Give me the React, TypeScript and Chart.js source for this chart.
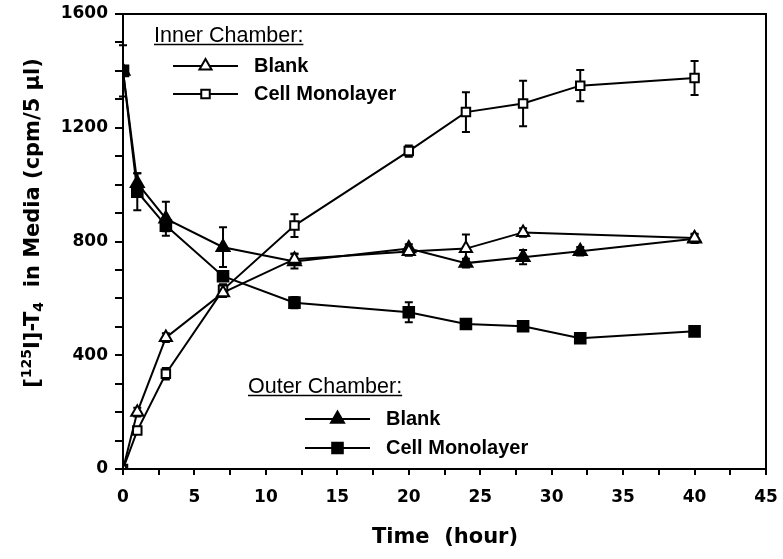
import React, { useEffect, useRef } from 'react';
import { Chart, registerables } from 'chart.js';

Chart.register(...registerables);

// ---- data ----
const allHours = [0, 1, 3, 7, 12, 20, 24, 28, 32, 40];
const innerBlankHours = [0, 1, 3, 7, 12, 20, 24, 28, 40];
const innerBlankValues = [0, 200, 462, 620, 738, 765, 775, 832, 812];
const innerBlankErrors = [0, 15, 15, 15, 20, 15, 50, 15, 15];
const innerCellValues = [0, 135, 335, 630, 856, 1118, 1255, 1285, 1348, 1375];
const innerCellErrors = [0, 10, 20, 20, 40, 20, 70, 80, 55, 60];
const outerBlankValues = [1400, 1005, 880, 780, 730, 775, 724, 745, 766, 810];
const outerBlankErrors = [90, 35, 60, 70, 25, 15, 15, 25, 15, 15];
const outerCellValues = [1400, 975, 856, 678, 585, 551, 510, 502, 460, 484];
const outerCellErrors = [0, 65, 20, 15, 20, 35, 10, 10, 15, 10];

const xMin = 0;
const xMax = 45;
const xMinorStep = 2.5;
const xLabelStep = 5;
const yMin = 0;
const yMax = 1600;
const yMinorStep = 100;
const yLabelStep = 400;

const innerHeading = 'Inner Chamber:';
const outerHeading = 'Outer Chamber:';
const blankLabel = 'Blank';
const cellLabel = 'Cell Monolayer';
const xTitle = 'Time  (hour)';

const errorSets = [innerBlankErrors, innerCellErrors, outerBlankErrors, outerCellErrors];

function toPoints(xs: number[], ys: number[]) {
  return xs.map((x, i) => ({ x, y: ys[i] }));
}

function drawMarker(ctx: CanvasRenderingContext2D, kind: string, filled: boolean, x: number, y: number, r: number) {
  ctx.save();
  ctx.beginPath();
  if (kind === 'triangle') {
    for (let k = 0; k < 3; k++) {
      const a = (k * 2 * Math.PI) / 3;
      const px = x + Math.sin(a) * r;
      const py = y - Math.cos(a) * r;
      if (k === 0) ctx.moveTo(px, py);
      else ctx.lineTo(px, py);
    }
    ctx.closePath();
  } else {
    const s = r * Math.SQRT1_2;
    ctx.rect(x - s, y - s, 2 * s, 2 * s);
  }
  ctx.fillStyle = filled ? '#000' : '#fff';
  ctx.fill();
  ctx.lineWidth = 2;
  ctx.strokeStyle = '#000';
  ctx.stroke();
  ctx.restore();
}

const decorPlugin = {
  id: 'decor',
  beforeDatasetsDraw(chart: any) {
    const ctx = chart.ctx as CanvasRenderingContext2D;
    const yScale = chart.scales.y;
    ctx.save();
    ctx.strokeStyle = '#000';
    ctx.lineWidth = 2;
    chart.data.datasets.forEach((ds: any, di: number) => {
      const meta = chart.getDatasetMeta(di);
      const errs = errorSets[di];
      meta.data.forEach((el: any, j: number) => {
        const e = errs[j];
        if (!e) return;
        const v = ds.data[j].y;
        const top = yScale.getPixelForValue(v + e);
        const bot = yScale.getPixelForValue(v - e);
        const x = el.x;
        ctx.beginPath();
        ctx.moveTo(x, top);
        ctx.lineTo(x, bot);
        ctx.moveTo(x - 4, top);
        ctx.lineTo(x + 4, top);
        ctx.moveTo(x - 4, bot);
        ctx.lineTo(x + 4, bot);
        ctx.stroke();
      });
    });
    ctx.restore();
  },
  afterDraw(chart: any) {
    const ctx = chart.ctx as CanvasRenderingContext2D;
    const area = chart.chartArea;
    ctx.save();
    // frame
    ctx.strokeStyle = '#000';
    ctx.lineWidth = 2;
    ctx.strokeRect(area.left, area.top, area.right - area.left, area.bottom - area.top);

    // x title
    ctx.fillStyle = '#000';
    ctx.font = 'bold 21px "DejaVu Sans"';
    ctx.textAlign = 'center';
    ctx.textBaseline = 'alphabetic';
    ctx.fillText(xTitle, 445, 543);

    // y title with super/subscript
    const big = 'bold 21px "DejaVu Sans"';
    const small = 'bold 14px "DejaVu Sans"';
    const parts: [string, string, number][] = [
      ['[', big, 0],
      ['125', small, -8],
      ['I]-T', big, 0],
      ['4', small, 4],
      ['  in Media (cpm/5 \u00b5l)', big, 0],
    ];
    let total = 0;
    parts.forEach(([t, f]) => {
      ctx.font = f;
      total += ctx.measureText(t).width;
    });
    ctx.translate(39, 223);
    ctx.rotate(-Math.PI / 2);
    ctx.textAlign = 'left';
    let cx = -total / 2;
    parts.forEach(([t, f, dy]) => {
      ctx.font = f;
      ctx.fillText(t, cx, dy);
      cx += ctx.measureText(t).width;
    });
    ctx.setTransform(1, 0, 0, 1, 0, 0);

    // legends
    const drawLegend = (heading: string, hx: number, hy: number, lx0: number, lx1: number, tx: number, rows: [string, string, boolean, number, number][]) => {
      ctx.font = '21.5px "Liberation Sans"';
      ctx.textAlign = 'left';
      ctx.textBaseline = 'alphabetic';
      ctx.fillStyle = '#000';
      ctx.fillText(heading, hx, hy);
      const w = ctx.measureText(heading).width;
      ctx.lineWidth = 1.5;
      ctx.beginPath();
      ctx.moveTo(hx, hy + 2.5);
      ctx.lineTo(hx + w, hy + 2.5);
      ctx.stroke();
      rows.forEach(([label, kind, filled, y, r]) => {
        ctx.lineWidth = 2;
        ctx.beginPath();
        ctx.moveTo(lx0, y);
        ctx.lineTo(lx1, y);
        ctx.stroke();
        drawMarker(ctx, kind, filled, (lx0 + lx1) / 2, y, r);
        ctx.font = 'bold 20px "Liberation Sans"';
        ctx.textBaseline = 'middle';
        ctx.fillStyle = '#000';
        ctx.fillText(label, tx, y);
        ctx.textBaseline = 'alphabetic';
      });
    };
    drawLegend(innerHeading, 154, 42, 173, 238, 254, [
      [blankLabel, 'triangle', false, 66, 7],
      [cellLabel, 'rect', false, 94, 6],
    ]);
    drawLegend(outerHeading, 248, 393, 305, 370, 386, [
      [blankLabel, 'triangle', true, 419, 7.5],
      [cellLabel, 'rect', true, 448, 7.5],
    ]);
    ctx.restore();
  },
};

export default function App() {
  const ref = useRef<HTMLCanvasElement | null>(null);
  useEffect(() => {
    if (!ref.current) return;
    const common = {
      borderColor: '#000',
      borderWidth: 2,
      pointBorderColor: '#000',
      pointBorderWidth: 2,
      tension: 0,
      showLine: true,
    };
    const chart = new Chart(ref.current, {
      type: 'scatter',
      data: {
        datasets: [
          {
            ...common,
            label: 'Inner Blank',
            data: toPoints(innerBlankHours, innerBlankValues),
            pointStyle: 'triangle',
            pointRadius: 7,
            pointBackgroundColor: '#fff',
          },
          {
            ...common,
            label: 'Inner Cell Monolayer',
            data: toPoints(allHours, innerCellValues),
            pointStyle: 'rect',
            pointRadius: 6,
            pointBackgroundColor: '#fff',
          },
          {
            ...common,
            label: 'Outer Blank',
            data: toPoints(allHours, outerBlankValues),
            pointStyle: 'triangle',
            pointRadius: 7.5,
            pointBackgroundColor: '#000',
          },
          {
            ...common,
            label: 'Outer Cell Monolayer',
            data: toPoints(allHours, outerCellValues),
            pointStyle: 'rect',
            pointRadius: 7.5,
            pointBackgroundColor: '#000',
          },
        ],
      },
      options: {
        responsive: false,
        animation: false,
        layout: { padding: { top: 14, right: 17, left: 0, bottom: 0 } },
        plugins: { legend: { display: false }, tooltip: { enabled: false } },
        scales: {
          x: {
            type: 'linear',
            min: xMin,
            max: xMax,
            afterFit: (s: any) => {
              s.height = 90;
              s.paddingLeft = 0;
              s.paddingRight = 0;
            },
            grid: { drawOnChartArea: false, drawTicks: true, tickLength: 6, color: '#000', lineWidth: 2 },
            border: { color: '#000', width: 2 },
            ticks: {
              stepSize: xMinorStep,
              autoSkip: false,
              maxRotation: 0,
              padding: 12,
              color: '#000',
              font: { family: 'DejaVu Sans', size: 17, weight: 'bold' },
              callback: (v: any) => (Number(v) % xLabelStep === 0 ? String(v) : ''),
            },
          },
          y: {
            type: 'linear',
            min: yMin,
            max: yMax,
            afterFit: (s: any) => {
              s.width = 123;
              s.paddingTop = 0;
              s.paddingBottom = 0;
            },
            grid: { drawOnChartArea: false, drawTicks: true, tickLength: 8, color: '#000', lineWidth: 2 },
            border: { color: '#000', width: 2 },
            ticks: {
              stepSize: yMinorStep,
              autoSkip: false,
              padding: 7,
              color: '#000',
              font: { family: 'DejaVu Sans', size: 17, weight: 'bold' },
              callback: (v: any) => (Number(v) % yLabelStep === 0 ? String(v) : ''),
            },
          },
        },
      },
      plugins: [decorPlugin],
    } as any);
    return () => chart.destroy();
  }, []);
  return (
    <div style={{ position: 'fixed', left: 0, top: 0, width: 783, height: 559, background: '#fff' }}>
      <canvas ref={ref} width={783} height={559} style={{ display: 'block' }} />
    </div>
  );
}
